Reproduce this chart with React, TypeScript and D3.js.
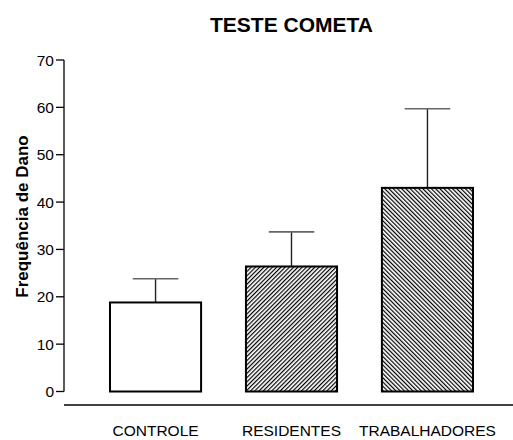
import React from 'react';
import { scaleLinear, scaleBand, range } from 'd3';

const categories = ['CONTROLE', 'RESIDENTES', 'TRABALHADORES'];
const means = [18.8, 26.4, 43.0];
const errors = [5.0, 7.3, 16.7];
const yTicks = [0, 10, 20, 30, 40, 50, 60, 70];
const fills = ['#fff', 'url(#hatchUp)', 'url(#hatchDown)'];

const FONT = 'Arial, "Liberation Sans", sans-serif';

export default function App() {
  const width = 513;
  const height = 440;
  const axisX = 64;

  const x = scaleBand<string>()
    .domain(categories)
    .range([110, 473])
    .paddingInner(0.33)
    .paddingOuter(0);

  const y = scaleLinear().domain([0, 70]).range([391.5, 60]);

  const bw = x.bandwidth();

  return (
    <svg
      width={width}
      height={height}
      style={{ position: 'absolute', left: 0, top: 0, background: '#fff' }}
      fontFamily={FONT}
    >
      <defs>
        <pattern id="hatchUp" patternUnits="userSpaceOnUse" width="3" height="3" patternTransform="rotate(45)">
          <line x1="0.6" y1="0" x2="0.6" y2="3" stroke="#000" strokeWidth="1.2" />
        </pattern>
        <pattern id="hatchDown" patternUnits="userSpaceOnUse" width="3" height="3" patternTransform="rotate(-45)">
          <line x1="0.6" y1="0" x2="0.6" y2="3" stroke="#000" strokeWidth="1.2" />
        </pattern>
      </defs>

      {/* title */}
      <text x={291.5} y={32} textAnchor="middle" fontSize={21} fontWeight="bold">
        TESTE COMETA
      </text>

      {/* y axis */}
      <line x1={axisX} x2={axisX} y1={y(70)} y2={y(0)} stroke="#000" strokeWidth={1.3} />
      {yTicks.map((t) => (
        <g key={t}>
          <line x1={axisX - 8} x2={axisX} y1={y(t)} y2={y(t)} stroke="#000" strokeWidth={1.3} />
          <text x={axisX - 10} y={y(t)} dy="0.36em" textAnchor="end" fontSize={15.5}>
            {t}
          </text>
        </g>
      ))}
      <text
        transform={`translate(28,${216.5}) rotate(-90)`}
        textAnchor="middle"
        fontSize={17}
        fontWeight="bold"
      >
        Frequência de Dano
      </text>

      {/* error bars */}
      {range(categories.length).map((i) => {
        const cx = x(categories[i])! + bw / 2;
        const top = y(means[i] + errors[i]);
        return (
          <g key={'e' + i}>
            <line x1={cx} x2={cx} y1={y(means[i])} y2={top} stroke="#222" strokeWidth={1.4} />
            <line x1={cx - bw / 4} x2={cx + bw / 4} y1={top} y2={top} stroke="#666" strokeWidth={1.6} />
          </g>
        );
      })}

      {/* bars */}
      {categories.map((c, i) => (
        <rect
          key={c}
          x={x(c)}
          y={y(means[i])}
          width={bw}
          height={y(0) - y(means[i])}
          fill={fills[i]}
          stroke="#000"
          strokeWidth={2}
        />
      ))}

      {/* category axis */}
      <line x1={axisX} x2={width} y1={405} y2={405} stroke="#000" strokeWidth={1.3} />
      {categories.map((c) => (
        <text key={c} x={x(c)! + bw / 2} y={436} textAnchor="middle" fontSize={15.5}>
          {c}
        </text>
      ))}
    </svg>
  );
}
